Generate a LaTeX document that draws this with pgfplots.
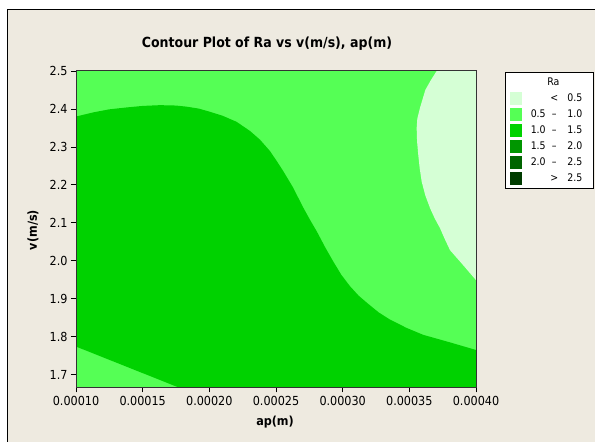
\documentclass[border=0pt]{standalone}
\usepackage{fontspec}
\setmainfont{DejaVu Sans Condensed}
\usepackage{pgfplots}
\pgfplotsset{compat=1.18}

\definecolor{panelbg}{HTML}{EEEAE0}
\definecolor{raA}{HTML}{D5FFD5}
\definecolor{raB}{HTML}{55FF55}
\definecolor{raC}{HTML}{00D200}
\definecolor{raD}{HTML}{009600}
\definecolor{raE}{HTML}{006400}
\definecolor{raF}{HTML}{003C00}

% legend row: left number, separator, right number
\newcommand{\rarow}[3]{\makebox[14bp][r]{#1}\makebox[17bp][c]{#2}\makebox[19.7bp][r]{#3}\hspace*{3.7bp}}

\begin{document}
\begin{tikzpicture}
\path[use as bounding box] (0,0) rectangle (595bp,442bp);
\fill[white] (0,0) rectangle (595bp,442bp);
\fill[panelbg] (7bp,0) rectangle (595bp,432bp);
\draw[black, line width=1bp] (7bp,0) -- (7bp,432bp) -- (595bp,432bp);

\begin{axis}[
  at={(76bp,54.7bp)}, anchor=south west,
  scale only axis, width=400bp, height=316.3bp,
  xmin=0.0001, xmax=0.0004, ymin=1.66667, ymax=2.5,
  scaled x ticks=false, scaled y ticks=false,
  xtick={0.0001,0.00015,0.0002,0.00025,0.0003,0.00035,0.0004},
  xticklabels={0.00010,0.00015,0.00020,0.00025,0.00030,0.00035,0.00040},
  ytick={1.7,1.8,1.9,2.0,2.1,2.2,2.3,2.4,2.5},
  yticklabels={1.7,1.8,1.9,2.0,2.1,2.2,2.3,2.4,2.5},
  tick align=outside, major tick length=5bp,
  xtick pos=bottom, ytick pos=left,
  tick style={black, line width=0.8bp},
  axis line style={line width=1bp, black!80},
  tick label style={font=\fontsize{12.5}{14}\selectfont},
  title={\bfseries Contour Plot of Ra vs v(m/s), ap(m)},
  title style={at={(0.4775,1)}, anchor=center, yshift=21bp, font=\fontsize{14}{16}\selectfont},
  xlabel={\bfseries ap(m)},
  xlabel style={at={(0.4975,0)}, anchor=center, yshift=-35bp, font=\fontsize{12.5}{14}\selectfont},
  ylabel={\bfseries v(m/s)},
  ylabel style={at={(-0.1075,0.497)}, anchor=center, font=\fontsize{12.5}{14}\selectfont},
  axis on top,
  legend image code/.code={\fill[#1, draw=none] (0bp,-6.3bp) rectangle (12bp,6.3bp);},
  legend style={
    at={(1.0718,0.9978)}, anchor=north west,
    draw=black, fill=white, line width=0.8bp,
    font=\fontsize{10.5}{12}\selectfont,
    inner xsep=5.3bp, inner ysep=2.3bp,
    cells={anchor=west, minimum height=16bp, inner ysep=0pt, inner xsep=0pt},
    row sep=0pt, column sep=7.3bp,
  },
]

% 0.5 - 1.0 band covers the whole design space
\addplot[fill=raB, draw=none, forget plot] coordinates {
  (0.0001,1.66667) (0.0004,1.66667) (0.0004,2.5) (0.0001,2.5) (0.0001,1.66667)
};

% 1.0 - 1.5 region
\addplot[fill=raC, draw=none, forget plot] coordinates {
  (0.0001,2.380) (0.000113,2.391) (0.000125,2.399) (0.000138,2.404)
  (0.000150,2.408) (0.000163,2.410) (0.000175,2.409) (0.000183,2.406)
  (0.000192,2.401) (0.000200,2.393) (0.000210,2.382) (0.0002205,2.366)
  (0.0002305,2.342) (0.000238,2.319) (0.0002455,2.289) (0.0002505,2.263)
  (0.0002553,2.237) (0.0002628,2.193) (0.0002703,2.141) (0.0002755,2.108)
  (0.0002808,2.076) (0.0002868,2.036) (0.0002928,1.999) (0.0002990,1.963)
  (0.0003055,1.933) (0.0003120,1.908) (0.0003183,1.889) (0.0003270,1.864)
  (0.0003355,1.845) (0.0003480,1.823) (0.0003603,1.805) (0.0003805,1.785)
  (0.0004,1.765)
  (0.0004,1.66667) (0.0001767,1.66667) (0.0001,1.774) (0.0001,2.380)
};

% below 0.5 region
\addplot[fill=raA, draw=none, forget plot] coordinates {
  (0.0003705,2.5) (0.000366,2.475) (0.000362,2.450) (0.000358,2.403)
  (0.000356,2.375) (0.0003555,2.350) (0.0003558,2.315) (0.0003567,2.279)
  (0.0003578,2.243) (0.0003593,2.208) (0.0003620,2.172) (0.0003655,2.139)
  (0.000369,2.112) (0.000373,2.086) (0.0003765,2.058) (0.0003805,2.028)
  (0.0003900,1.990) (0.0004,1.949) (0.0004,2.5) (0.0003705,2.5)
};

\addlegendimage{empty legend}
\addlegendentry{\makebox[43.4bp][c]{Ra}}
\addlegendimage{fill=raA}
\addlegendentry{\rarow{}{<}{0.5}}
\addlegendimage{fill=raB}
\addlegendentry{\rarow{0.5}{--}{1.0}}
\addlegendimage{fill=raC}
\addlegendentry{\rarow{1.0}{--}{1.5}}
\addlegendimage{fill=raD}
\addlegendentry{\rarow{1.5}{--}{2.0}}
\addlegendimage{fill=raE}
\addlegendentry{\rarow{2.0}{--}{2.5}}
\addlegendimage{fill=raF}
\addlegendentry{\rarow{}{>}{2.5}}
\end{axis}
\end{tikzpicture}
\end{document}
